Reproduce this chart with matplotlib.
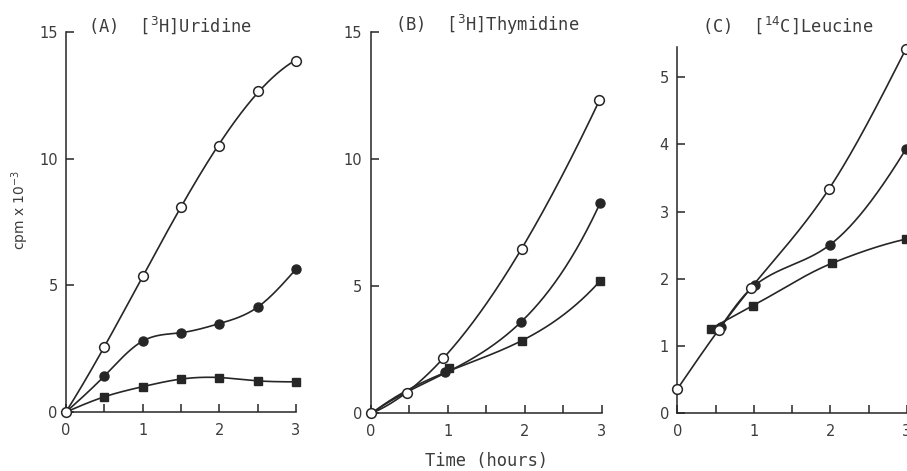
import numpy as np
import matplotlib
matplotlib.use("Agg")
import matplotlib.pyplot as plt

plt.rcParams['font.family'] = ['DejaVu Sans']
plt.rcParams['mathtext.fontset'] = 'dejavusans'

# ---- data (cpm x 10^-3 vs time in hours) ----
# Panel A: [3H]Uridine
a_open_x = [0, 0.5, 1.0, 1.5, 2.0, 2.5, 3.0]
a_open_y = [0, 2.58, 5.37, 8.1, 10.5, 12.69, 13.87]
a_fill_x = [0, 0.5, 1.0, 1.5, 2.0, 2.5, 3.0]
a_fill_y = [0, 1.42, 2.8, 3.13, 3.49, 4.14, 5.64]
a_sq_x = [0, 0.5, 1.0, 1.5, 2.0, 2.5, 3.0]
a_sq_y = [0, 0.6, 1.0, 1.3, 1.36, 1.23, 1.19]

# Panel B: [3H]Thymidine
b_open_x = [0, 0.47, 0.94, 1.96, 2.97]
b_open_y = [0, 0.79, 2.19, 6.46, 12.3]
b_fill_x = [0, 0.47, 0.96, 1.95, 2.98]
b_fill_y = [0, 0.79, 1.61, 3.57, 8.27]
b_sq_x = [0, 0.47, 1.02, 1.97, 2.98]
b_sq_y = [0, 0.79, 1.77, 2.83, 5.21]

# Panel C: [14C]Leucine
c_open_x = [0, 0.54, 0.96, 1.98, 2.99]
c_open_y = [0.36, 1.24, 1.86, 3.33, 5.42]
c_fill_x = [0.57, 1.01, 1.99, 2.99]
c_fill_y = [1.29, 1.9, 2.5, 3.93]
c_sq_x = [0.44, 0.99, 2.02, 2.99]
c_sq_y = [1.26, 1.6, 2.23, 2.59]

titles = [r'(A)  [$^{3}$H]Uridine', r'(B)  [$^{3}$H]Thymidine', r'(C)  [$^{14}$C]Leucine']
ylims = [15, 15, 5.45]
yticks = [[0, 5, 10, 15], [0, 5, 10, 15], [0, 1, 2, 3, 4, 5]]
xticks = [0, 1, 2, 3]

INK = '#262626'
TXT = '#3c3c3c'
MONO = ['DejaVu Sans Mono']


def spline(x, y, n=300):
    """Natural cubic spline through the points."""
    x = np.asarray(x, float); y = np.asarray(y, float)
    N = len(x)
    h = np.diff(x)
    A = np.zeros((N, N)); r = np.zeros(N)
    A[0, 0] = 1; A[-1, -1] = 1
    for k in range(1, N - 1):
        A[k, k - 1] = h[k - 1]
        A[k, k] = 2 * (h[k - 1] + h[k])
        A[k, k + 1] = h[k]
        r[k] = 6 * ((y[k + 1] - y[k]) / h[k] - (y[k] - y[k - 1]) / h[k - 1])
    M = np.linalg.solve(A, r)
    xs = np.linspace(x[0], x[-1], n)
    idx = np.clip(np.searchsorted(x, xs) - 1, 0, N - 2)
    x0 = x[idx]; x1 = x[idx + 1]; hh = h[idx]
    ys = (M[idx] * (x1 - xs) ** 3 / (6 * hh) + M[idx + 1] * (xs - x0) ** 3 / (6 * hh)
          + (y[idx] / hh - M[idx] * hh / 6) * (x1 - xs)
          + (y[idx + 1] / hh - M[idx + 1] * hh / 6) * (xs - x0))
    return xs, ys


def pchip(x, y, n=300):
    """Monotone cubic Hermite curve through the points."""
    x = np.asarray(x, float); y = np.asarray(y, float)
    h = np.diff(x); d = np.diff(y) / h
    m = np.zeros_like(x)
    for k in range(1, len(x) - 1):
        if d[k - 1] * d[k] > 0:
            w1 = 2 * h[k] + h[k - 1]; w2 = h[k] + 2 * h[k - 1]
            m[k] = (w1 + w2) / (w1 / d[k - 1] + w2 / d[k])
    m[0] = ((2 * h[0] + h[1]) * d[0] - h[0] * d[1]) / (h[0] + h[1])
    m[-1] = ((2 * h[-1] + h[-2]) * d[-1] - h[-1] * d[-2]) / (h[-1] + h[-2])
    xs = np.linspace(x[0], x[-1], n)
    idx = np.clip(np.searchsorted(x, xs) - 1, 0, len(x) - 2)
    t = (xs - x[idx]) / h[idx]
    h00 = 2 * t**3 - 3 * t**2 + 1; h10 = t**3 - 2 * t**2 + t
    h01 = -2 * t**3 + 3 * t**2; h11 = t**3 - t**2
    ys = h00 * y[idx] + h10 * h[idx] * m[idx] + h01 * y[idx + 1] + h11 * h[idx] * m[idx + 1]
    return xs, ys


def poly(x, y, n=300):
    """Hand-drawn style smooth curve (least squares cubic)."""
    p = np.polyfit(x, y, 3)
    xs = np.linspace(min(x), max(x), n)
    return xs, np.polyval(p, xs)


fig = plt.figure(figsize=(9.07, 4.71), dpi=100)
positions = [
    [66 / 907, 1 - 412 / 471, 230 / 907, 380 / 471],
    [370.7 / 907, 1 - 413.3 / 471, 231 / 907, 381.6 / 471],
    [677.3 / 907, 1 - 413.3 / 471, 229.5 / 907, 366.6 / 471],
]
panels = [
    (a_open_x, a_open_y, a_fill_x, a_fill_y, a_sq_x, a_sq_y, [1, 2, 3, 4, 5, 6], [1, 2, 3, 4, 5, 6],
     (poly, spline, spline)),
    (b_open_x, b_open_y, b_fill_x, b_fill_y, b_sq_x, b_sq_y, [2, 3, 4], [2, 3, 4],
     (poly, poly, poly)),
    (c_open_x, c_open_y, c_fill_x, c_fill_y, c_sq_x, c_sq_y, None, None,
     (spline, pchip, pchip)),
]

for i, (pos, pdata) in enumerate(zip(positions, panels)):
    ox, oy, fx, fy, sx, sy, fmark, smark, (fo, ff, fs) = pdata
    ax = fig.add_axes(pos)
    ax.set_xlim(0, 3)
    ax.set_ylim(0, ylims[i])
    for sp in ['top', 'right']:
        ax.spines[sp].set_visible(False)
    for sp in ['left', 'bottom']:
        ax.spines[sp].set_color(INK)
        ax.spines[sp].set_linewidth(1.1)
    ax.set_xticks(xticks)
    ax.set_xticks([0.5, 1.5, 2.5], minor=True)
    ax.set_yticks(yticks[i])
    ax.tick_params(axis='both', which='both', direction='in', colors=INK,
                   labelcolor=TXT, labelsize=10.5, width=1.1)
    ax.tick_params(axis='both', which='major', length=6)
    ax.tick_params(axis='x', which='minor', length=6)
    ax.tick_params(axis='x', pad=8)
    ax.tick_params(axis='y', pad=6)

    # curves
    for func, xx, yy in [(fs, sx, sy), (ff, fx, fy), (fo, ox, oy)]:
        cx, cy = func(xx, yy)
        ax.plot(cx, cy, color=INK, lw=1.2, clip_on=False, zorder=2)

    ax.plot(sx, sy, ls='none', marker='s', ms=5.5, mfc=INK, mec=INK,
            markevery=smark, clip_on=False, zorder=3)
    ax.plot(fx, fy, ls='none', marker='o', ms=6.5, mfc=INK, mec=INK,
            markevery=fmark, clip_on=False, zorder=4)
    ax.plot(ox, oy, ls='none', marker='o', ms=7, mfc='white', mec=INK, mew=1.1,
            clip_on=False, zorder=5)

fig.text(88 / 907, 1 - 25 / 471, titles[0], fontsize=12.3, family=MONO, color=TXT, va='center', ha='left')
fig.text(395 / 907, 1 - 25 / 471, titles[1], fontsize=12.3, family=MONO, color=TXT, va='center', ha='left')
fig.text(702 / 907, 1 - 25 / 471, titles[2], fontsize=12.3, family=MONO, color=TXT, va='center', ha='left')

fig.text(20 / 907, 1 - 210 / 471, r'cpm x 10$^{-3}$', rotation=90, fontsize=10,
         color=TXT, va='center', ha='center')
fig.text(486.5 / 907, 1 - 461.5 / 471, 'Time (hours)', fontsize=12.3, family=MONO, color=TXT,
         va='center', ha='center')

fig.savefig('out.png', dpi=100)
